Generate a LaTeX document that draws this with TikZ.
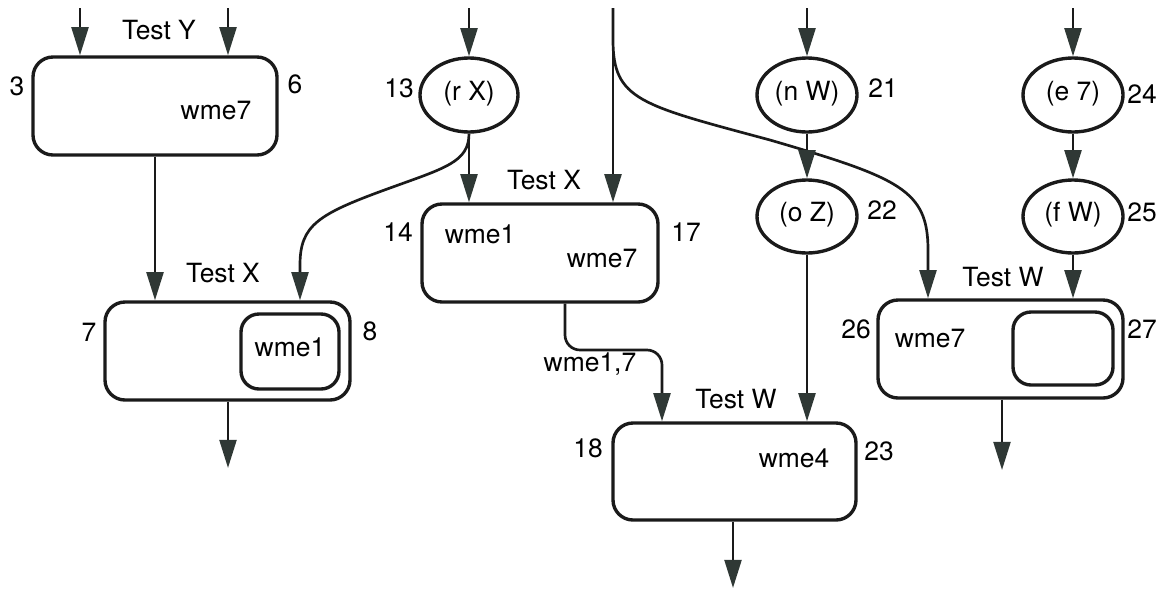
\documentclass[tikz,border=0pt]{standalone}
\usepackage{fontspec}
\setmainfont{TeX Gyre Heros}
\usetikzlibrary{arrows.meta,shapes.geometric}
\newlength\px
\setlength\px{0.025cm}
\definecolor{tipgray}{HTML}{2F3835}
\definecolor{ink}{HTML}{1A1A1A}
\begin{document}
\begin{tikzpicture}[x=1\px, y=-1\px,
  font=\fontsize{18.8}{22}\selectfont,
  box/.style={draw=ink, line width=2.4pt, rounded corners=0.5cm, inner sep=0pt,
    text height=0.72em, text depth=0pt},
  subbox/.style={box, rounded corners=0.45cm},
  oval/.style={draw=ink, line width=2.4pt, ellipse, inner sep=0pt,
    minimum width=100\px, minimum height=74\px, text height=0.72em, text depth=0pt},
  lbl/.style={inner sep=0pt, text height=0.72em, text depth=0pt},
  link/.style={draw=ink, line width=1.9pt,
    -{Triangle[length=20pt, width=12pt, color=tipgray]}}
]
\useasboundingbox (0,0) rectangle (1164,593);

% ---- memory boxes and constant-test nodes ----
\node[box, minimum width=244\px, minimum height=98\px] (A) at (155,106) {};
\node[box, minimum width=245\px, minimum height=98\px] (B) at (227.5,351) {};
\node[subbox, minimum width=98\px, minimum height=75\px] (Bi) at (290,351.5) {wme1};
\node[box, minimum width=236\px, minimum height=98\px] (C) at (540,253) {};
\node[box, minimum width=243\px, minimum height=97\px] (D) at (734.5,471.5) {};
\node[box, minimum width=245\px, minimum height=98\px] (E) at (1000.5,349) {};
\node[subbox, minimum width=100\px, minimum height=73\px] (Ei) at (1063,348.5) {};

\node[oval, minimum width=98\px] (rX) at (469,95) {(r X)};
\node[oval] (nW) at (807,95) {(n W)};
\node[oval, minimum height=73\px] (oZ) at (807,216.5) {(o Z)};
\node[oval] (e7) at (1073,95) {(e 7)};
\node[oval, minimum height=73\px] (fW) at (1073,216.5) {(f W)};

% ---- titles, contents and numbers ----
\node[lbl] (tA) at (159,34) {Test Y};
\node[lbl] (wA) at (216,114) {wme7};
\node[lbl] (n3) at (17,90) {3};
\node[lbl] (n6) at (295,88) {6};

\node[lbl] (tB) at (223,277) {Test X};
\node[lbl] (n7) at (89,336) {7};
\node[lbl] (n8) at (370,335) {8};

\node[lbl] (n13) at (399,92) {13};

\node[lbl] (tC) at (544,184) {Test X};
\node[lbl] (w1C) at (480,238) {wme1};
\node[lbl] (w7C) at (602,262) {wme7};
\node[lbl] (n14) at (398,236) {14};
\node[lbl] (n17) at (686,236) {17};

\node[lbl] (n21) at (883,92) {21};
\node[lbl] (n22) at (882,214) {22};
\node[lbl] (n24) at (1142,98) {24};
\node[lbl] (n25) at (1142,216) {25};

\node[lbl] (tD) at (736,403) {Test W};
\node[lbl] (wD) at (794,462) {wme4};
\node[lbl] (n18) at (588,452) {18};
\node[lbl] (n23) at (879,455) {23};
\node[lbl] (wCD) at (590,366) {wme1,7};

\node[lbl] (tE) at (1003,281) {Test W};
\node[lbl] (wE) at (930,342) {wme7};
\node[lbl] (n26) at (856,333) {26};
\node[lbl] (n27) at (1142,333) {27};

% ---- free ends of connectors ----
\coordinate (inA1) at (80,8);
\coordinate (inA2) at (228,8);
\coordinate (inR) at (469,8);
\coordinate (inT) at (613,8);
\coordinate (inN) at (807,8);
\coordinate (inE) at (1073,8);
\coordinate (outB) at (228,468);
\coordinate (outD) at (733,588);
\coordinate (outE) at (1002,470);
\coordinate (bendB) at (300,265);
\coordinate (bendE) at (928,250);
\coordinate (cOut) at (565,0);
\coordinate (dIn) at (662,350);

% ---- connectors ----
\draw[link] (inA1) -- (inA1 |- A.north);
\draw[link] (inA2) -- (inA2 |- A.north);
\draw[link] (A.south) -- (A.south |- B.north);
\draw[link] (outB |- B.south) -- (outB);

\draw[link] (inR) -- (rX.north);
\draw[link] (rX.south) -- (rX.south |- C.north);
\draw[link] (rX.south) .. controls (469,162) and (445,168) .. (390,188)
  .. controls (318,214) and (300,225) .. (bendB) -- (bendB |- B.north);

\draw[link] (inT) -- (inT |- C.north);
\draw[link] (inT) -- (613,40) .. controls (613,100) and (640,105) .. (770,140)
  .. controls (900,178) and (928,190) .. (bendE) -- (bendE |- E.north);

\draw[link, rounded corners=15\px] (cOut |- C.south) |- (dIn) -- (dIn |- D.north);

\draw[link] (inN) -- (nW.north);
\draw[link] (nW.south) -- (oZ.north);
\draw[link] (oZ.south) -- (oZ.south |- D.north);
\draw[link] (outD |- D.south) -- (outD);

\draw[link] (inE) -- (e7.north);
\draw[link] (e7.south) -- (fW.north);
\draw[link] (fW.south) -- (fW.south |- E.north);
\draw[link] (outE |- E.south) -- (outE);
\end{tikzpicture}
\end{document}
